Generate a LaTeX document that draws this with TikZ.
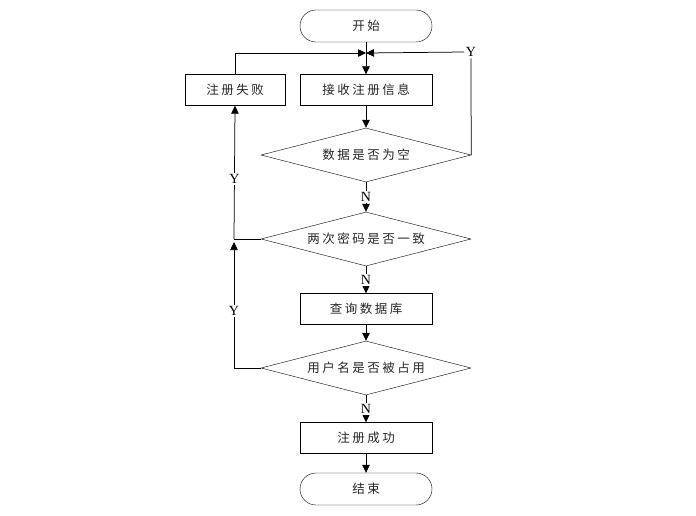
\documentclass[tikz,border=0pt]{standalone}
\usepackage{fontspec}
\setmainfont{Liberation Serif}
\newfontfamily\cjk[LetterSpace=20]{Noto Sans CJK SC}
\usetikzlibrary{shapes.geometric,arrows.meta}
\begin{document}
\begin{tikzpicture}[x=1pt,y=-1pt,
  every node/.style={font=\cjk\fontsize{12.5}{14}\selectfont, inner sep=0pt, text=black!85},
  term/.style={draw, rounded corners=16pt, minimum width=132pt, minimum height=32pt},
  proc/.style={draw, minimum width=132pt, minimum height=31pt},
  fail/.style={draw, minimum width=100pt, minimum height=31pt},
  dec/.style={draw, diamond, shape aspect=3.9, minimum width=210pt, minimum height=54pt},
  lab/.style={font=\fontsize{14}{16}\selectfont, fill=white, inner sep=1.5pt, text=black},
  line/.style={draw, line width=0.75pt},
  arr/.style={line, -{Triangle[length=8pt,width=7.5pt]}}
]
\useasboundingbox (0,0) rectangle (696,515);
\node[term] (start) at (366,26) {开始};
\node[proc] (recv) at (366,90) {接收注册信息};
\node[fail] (fail) at (235,90) {注册失败};
\node[dec] (d1) at (366,155) {数据是否为空};
\node[dec] (d2) at (366,239) {两次密码是否一致};
\node[proc] (query) at (366,309) {查询数据库};
\node[dec] (d3) at (366,368) {用户名是否被占用};
\node[proc] (ok) at (366,438) {注册成功};
\node[term] (end) at (366,489) {结束};

\coordinate (j) at (366,53);
\coordinate (c2) at (234,239);
\coordinate (c3) at (234,368);

\path[arr] (start) -- (recv);
\path[arr] (recv) -- (d1);
\path[arr] (d1) -- node[lab] {N} (d2);
\path[arr] (d2) -- node[lab] {N} (query);
\path[arr] (query) -- (d3);
\path[arr] (d3) -- node[lab] {N} (ok);
\path[arr] (ok) -- (end);

\node[lab] (y1) at (471,52) {Y};
\path[line] (d1.east) -- (y1.south);
\path[arr] (y1.west) -- (j);
\path[arr] (fail.north) |- (j);

\path[line] (d2.west) -- (c2);
\path[arr] (c2) -- node[lab, pos=0.45] {Y} (fail.south);
\path[line] (d3.west) -- (c3);
\path[arr] (c3) -- node[lab, pos=0.45] {Y} ([yshift=-3pt]c2);
\end{tikzpicture}
\end{document}
